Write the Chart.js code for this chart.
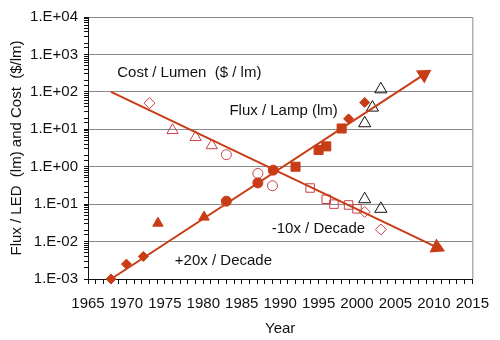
<!DOCTYPE html>
<html>
<head>
<meta charset="utf-8">
<script src="https://cdn.jsdelivr.net/npm/chart.js@4/dist/chart.umd.min.js"></script>
<style>
  html, body { margin: 0; padding: 0; background: #fff; }
</style>
</head>
<body>
<canvas id="haitz" width="500" height="340"></canvas>
<script>
// Year / value pairs
const fluxTrend = [[1968, 1e-3], [2008.7, 290]];
const costTrend = [[1968, 100], [2010.4, 7e-3]];

// Flux per LED (filled markers)
const fluxDiamonds = [[1968, 1e-3], [1970, 2.5e-3], [1972.2, 4e-3], [1998.9, 19], [2001, 52]];
const fluxTriangles = [[1974.1, 3.1e-2], [1980.1, 4.5e-2]];
const fluxCircles = [[1983, 0.12], [1987.1, 0.37], [1989.1, 0.81]];
const fluxSquares = [[1992, 1.0], [1995, 2.8], [1996, 3.5], [1998, 10.5]];

// Cost per lumen (open markers)
const costDiamonds = [[1973, 50], [2001, 0.062], [2003.1, 0.021]];
const costTriangles = [[1976, 9.4], [1979, 6.1], [1981.1, 3.7]];
const costCircles = [[1983, 2.1], [1987.1, 0.66], [1989, 0.31]];
const costSquares = [[1993.9, 0.27], [1996, 0.135], [1997, 0.1], [1998.9, 0.095], [2000, 0.075]];

// Lamp references (black open triangles)
const lampTriangles = [[2001, 14.5], [2002, 38], [2003.1, 117], [2001, 0.135], [2003.1, 0.075]];

const yearMin = 1965, yearMax = 2015;
const valueMin = 1e-3, valueMax = 1e4;

// Text notes placed at [year, value]
const notes = [
    ['Cost / Lumen  ($ / lm)', 1968.8, 330],
    ['Flux / Lamp (lm)', 1983.4, 32],
    ['-10x / Decade', 1988.9, 0.0215],
    ['+20x / Decade', 1976.3, 0.003]
];

const RED = '#c83c16';
const OPEN_RED = '#c8404a';

const pts = arr => arr.map(p => ({ x: p[0], y: p[1] }));
const isDecade = v => Math.abs(Math.log10(v) - Math.round(Math.log10(v))) < 1e-6;

Chart.defaults.font.family = '"Liberation Sans", Arial, sans-serif';
Chart.defaults.font.size = 15;
Chart.defaults.color = '#111';

// arrow head rotation follows the trend line direction
function arrowRotation(ctx) {
    const ds = ctx.chart.data.datasets[ctx.datasetIndex].data;
    const sx = ctx.chart.scales.x, sy = ctx.chart.scales.y;
    if (ctx.dataIndex === 0 || !sx || !sy) return 0;
    const a = ds[0], b = ds[ctx.dataIndex];
    const dx = sx.getPixelForValue(b.x) - sx.getPixelForValue(a.x);
    const dy = sy.getPixelForValue(b.y) - sy.getPixelForValue(a.y);
    return Math.atan2(dy, dx) * 180 / Math.PI + 90;
}

function trend(data) {
    return {
        data: pts(data),
        showLine: true,
        clip: false,
        borderColor: RED,
        backgroundColor: RED,
        borderWidth: 2,
        pointStyle: 'triangle',
        pointRadius: [0, 7],
        pointRotation: arrowRotation
    };
}

function marks(data, style, radius, filled, color) {
    return {
        data: pts(data),
        showLine: false,
        clip: false,
        pointStyle: style,
        pointRadius: radius,
        borderWidth: 1,
        borderColor: color,
        backgroundColor: filled ? color : 'rgba(0,0,0,0)'
    };
}

const framePlugin = {
    id: 'frame',
    beforeDatasetsDraw(chart) {
        const { ctx, chartArea: a } = chart;
        ctx.save();
        ctx.strokeStyle = '#8a8a8a';
        ctx.lineWidth = 1;
        ctx.beginPath();
        ctx.moveTo(a.right + 0.5, a.top);
        ctx.lineTo(a.right + 0.5, a.bottom);
        ctx.stroke();
        ctx.restore();
    },
    afterDatasetsDraw(chart) {
        const { ctx, scales } = chart;
        ctx.save();
        ctx.fillStyle = '#111';
        ctx.font = '15px "Liberation Sans", Arial, sans-serif';
        ctx.textBaseline = 'middle';
        ctx.textAlign = 'left';
        notes.forEach(n => {
            ctx.fillText(n[0], scales.x.getPixelForValue(n[1]), scales.y.getPixelForValue(n[2]));
        });
        ctx.restore();
    }
};

new Chart(document.getElementById('haitz'), {
    type: 'scatter',
    data: {
        datasets: [
            trend(fluxTrend),
            trend(costTrend),
            marks(fluxDiamonds, 'rectRot', 5, true, RED),
            marks(fluxTriangles, 'triangle', 6, true, RED),
            marks(fluxCircles, 'circle', 5, true, RED),
            marks(fluxSquares, 'rect', 6.4, true, RED),
            marks(costDiamonds, 'rectRot', 5.5, false, OPEN_RED),
            marks(costTriangles, 'triangle', 6.5, false, OPEN_RED),
            marks(costCircles, 'circle', 5, false, OPEN_RED),
            marks(costSquares, 'rect', 6, false, OPEN_RED),
            marks(lampTriangles, 'triangle', 7, false, '#111')
        ]
    },
    options: {
        responsive: false,
        animation: false,
        layout: { padding: { top: 17, right: 21, left: 0, bottom: 0 } },
        plugins: {
            legend: { display: false },
            tooltip: { enabled: false }
        },
        scales: {
            x: {
                type: 'linear',
                min: yearMin,
                max: yearMax,
                afterFit: s => { s.height = 61; },
                ticks: {
                    stepSize: 1,
                    autoSkip: false,
                    maxRotation: 0,
                    padding: 11,
                    callback: v => (v % 5 === 0 ? String(v) : '')
                },
                grid: {
                    drawOnChartArea: false,
                    tickColor: '#111',
                    tickLength: 5
                },
                border: { color: '#111', width: 1 },
                title: { display: true, text: 'Year', padding: { top: 0, bottom: 2 } }
            },
            y: {
                type: 'logarithmic',
                min: valueMin,
                max: valueMax,
                afterFit: s => { s.width = 88; },
                ticks: {
                    autoSkip: false,
                    padding: 6,
                    callback: v => {
                        if (!isDecade(v)) return '';
                        const e = Math.round(Math.log10(v));
                        return '1.E' + (e < 0 ? '-' : '+') + String(Math.abs(e)).padStart(2, '0');
                    }
                },
                grid: {
                    color: c => (c.tick && isDecade(c.tick.value) ? '#8a8a8a' : 'rgba(0,0,0,0)'),
                    tickColor: '#111',
                    tickLength: 4
                },
                border: { color: '#111', width: 1 },
                title: { display: true, text: 'Flux / LED  (lm) and Cost  ($/lm)', padding: { top: 8, bottom: 0 } }
            }
        }
    },
    plugins: [framePlugin]
});
</script>
</body>
</html>
